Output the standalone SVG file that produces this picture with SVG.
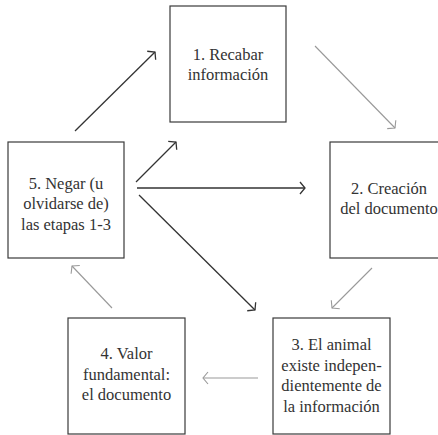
<svg xmlns="http://www.w3.org/2000/svg" width="438" height="435" viewBox="0 0 438 435">
<defs>
<style>
.box{fill:#fff;stroke:#3a3a3a;stroke-width:1.2}
.t{font-family:"Liberation Serif","Times New Roman",serif;font-size:16.5px;fill:#333;text-anchor:middle}
.dk{stroke:#333;stroke-width:1.3;fill:none;marker-end:url(#mdk)}
.gr{stroke:#999;stroke-width:1.1;fill:none;marker-end:url(#mgr)}
</style>
<marker id="mdk" viewBox="-6 -7 8 14" markerWidth="8" markerHeight="14" refX="0" refY="0" orient="auto" markerUnits="userSpaceOnUse">
<path d="M-5,-6 L0,0 L-5,6" fill="none" stroke="#333" stroke-width="1.3"/>
</marker>
<marker id="mgr" viewBox="-6 -7 8 14" markerWidth="8" markerHeight="14" refX="0" refY="0" orient="auto" markerUnits="userSpaceOnUse">
<path d="M-5,-6 L0,0 L-5,6" fill="none" stroke="#999" stroke-width="1.1"/>
</marker>
</defs>
<rect width="438" height="435" fill="#fff"/>
<g id="connectors">
<line class="dk" x1="75" y1="131" x2="155" y2="52"/>
<line class="gr" x1="315" y1="46" x2="395" y2="128"/>
<line class="dk" x1="136" y1="182" x2="176" y2="142"/>
<line class="dk" x1="137" y1="188" x2="305" y2="188"/>
<line class="dk" x1="139" y1="195" x2="255" y2="310"/>
<line class="gr" x1="372" y1="268" x2="332" y2="308"/>
<line class="gr" x1="258" y1="378" x2="203" y2="378"/>
<line class="gr" x1="112" y1="308" x2="72" y2="266"/>
</g>
<g id="node1">
<rect class="box" x="170" y="6" width="116" height="116"/>
<text class="t" x="228" y="60">1. Recabar</text>
<text class="t" x="228" y="80">información</text>
</g>
<g id="node2">
<rect class="box" x="330" y="142" width="116" height="116"/>
<text class="t" x="389" y="194">2. Creación</text>
<text class="t" x="389" y="214">del documento</text>
</g>
<g id="node3">
<rect class="box" x="273" y="318" width="117" height="116"/>
<text class="t" x="331.5" y="350">3. El animal</text>
<text class="t" x="331.5" y="370.5">existe indepen-</text>
<text class="t" x="331.5" y="391">dientemente de</text>
<text class="t" x="331.5" y="411.5">la información</text>
</g>
<g id="node4">
<rect class="box" x="68" y="318" width="117" height="116"/>
<text class="t" x="126.5" y="359">4. Valor</text>
<text class="t" x="126.5" y="380">fundamental:</text>
<text class="t" x="126.5" y="400">el documento</text>
</g>
<g id="node5">
<rect class="box" x="8" y="142" width="116" height="116"/>
<text class="t" x="66" y="189">5. Negar (u</text>
<text class="t" x="66" y="209">olvidarse de)</text>
<text class="t" x="66" y="230">las etapas 1-3</text>
</g>
</svg>
